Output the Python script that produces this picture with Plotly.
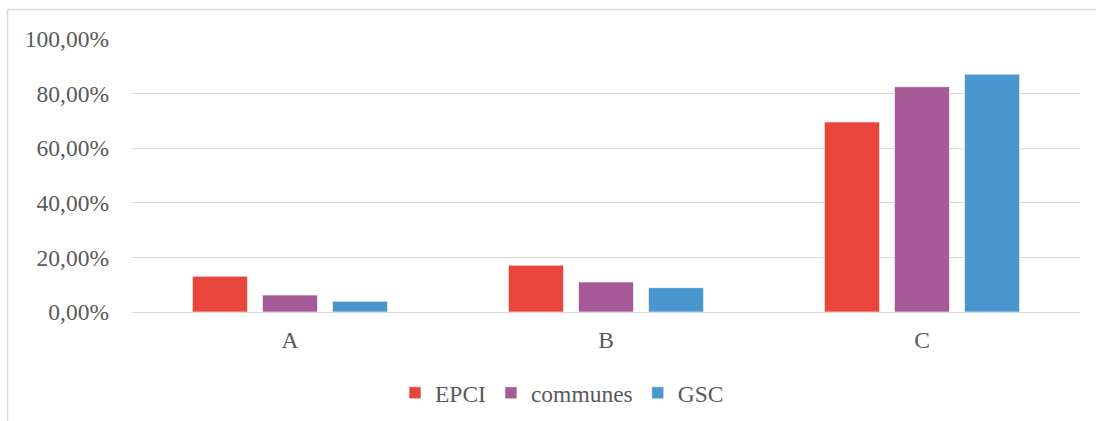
import plotly.graph_objects as go

categories = ["A", "B", "C"]
series_names = ["EPCI", "communes", "GSC"]
epci = [0.131, 0.171, 0.696]
communes = [0.062, 0.110, 0.825]
gsc = [0.039, 0.089, 0.871]
tick_vals = [0, 0.2, 0.4, 0.6, 0.8, 1.0]
tick_text = ["0,00%", "20,00%", "40,00%", "60,00%", "80,00%", "100,00%"]

colors = ["#E8453C", "#A65A98", "#4A96CE"]
values = [epci, communes, gsc]

fig = go.Figure()
for name, vals, col in zip(series_names, values, colors):
    fig.add_trace(go.Bar(
        x=categories, y=vals, name=name,
        marker=dict(color=col, line=dict(color="rgba(255,255,255,0.6)", width=1)),
    ))

W, H = 1096, 421
L, R, T, B = 132, 16, 39, 109
pw, ph = W - L - R, H - T - B

def px(x):
    return (x - L) / pw

def py(y):
    return (H - B - y) / ph

font_family = "Liberation Serif"
fs = 23.5
fig.update_layout(
    width=W, height=H,
    margin=dict(l=L, r=R, t=T, b=B, autoexpand=False),
    paper_bgcolor="white", plot_bgcolor="white",
    barmode="group", bargap=0.335, bargroupgap=0.214,
    font=dict(family=font_family, size=fs, color="#595959"),
    showlegend=True,
    legend=dict(orientation="h", xref="container", x=395 / W, xanchor="left",
                yref="container", y=(H - 393) / H, yanchor="middle",
                font=dict(family=font_family, size=fs, color="#595959"), traceorder="normal",
                itemwidth=30),
    xaxis=dict(showgrid=False, showline=False, zeroline=False, ticks="", automargin=False,
               tickfont=dict(family=font_family, size=fs), ticklabelstandoff=11),
    yaxis=dict(range=[0, 1.0], tickvals=tick_vals, ticktext=tick_text, automargin=False,
               showgrid=True, gridcolor="#D9D9D9", gridwidth=1.3,
               zeroline=True, zerolinecolor="#D9D9D9", zerolinewidth=1.3,
               showline=False, ticks="", tickfont=dict(family=font_family, size=fs),
               ticklabelstandoff=22),
    shapes=[
        dict(type="line", xref="paper", yref="paper", x0=px(7.5), x1=px(1096), y0=py(9.5), y1=py(9.5),
             line=dict(color="#D9D9D9", width=1.5)),
        dict(type="line", xref="paper", yref="paper", x0=px(7.5), x1=px(7.5), y0=py(9.5), y1=py(421),
             line=dict(color="#D9D9D9", width=1.5)),
    ],
)

fig.write_html("out.html")
